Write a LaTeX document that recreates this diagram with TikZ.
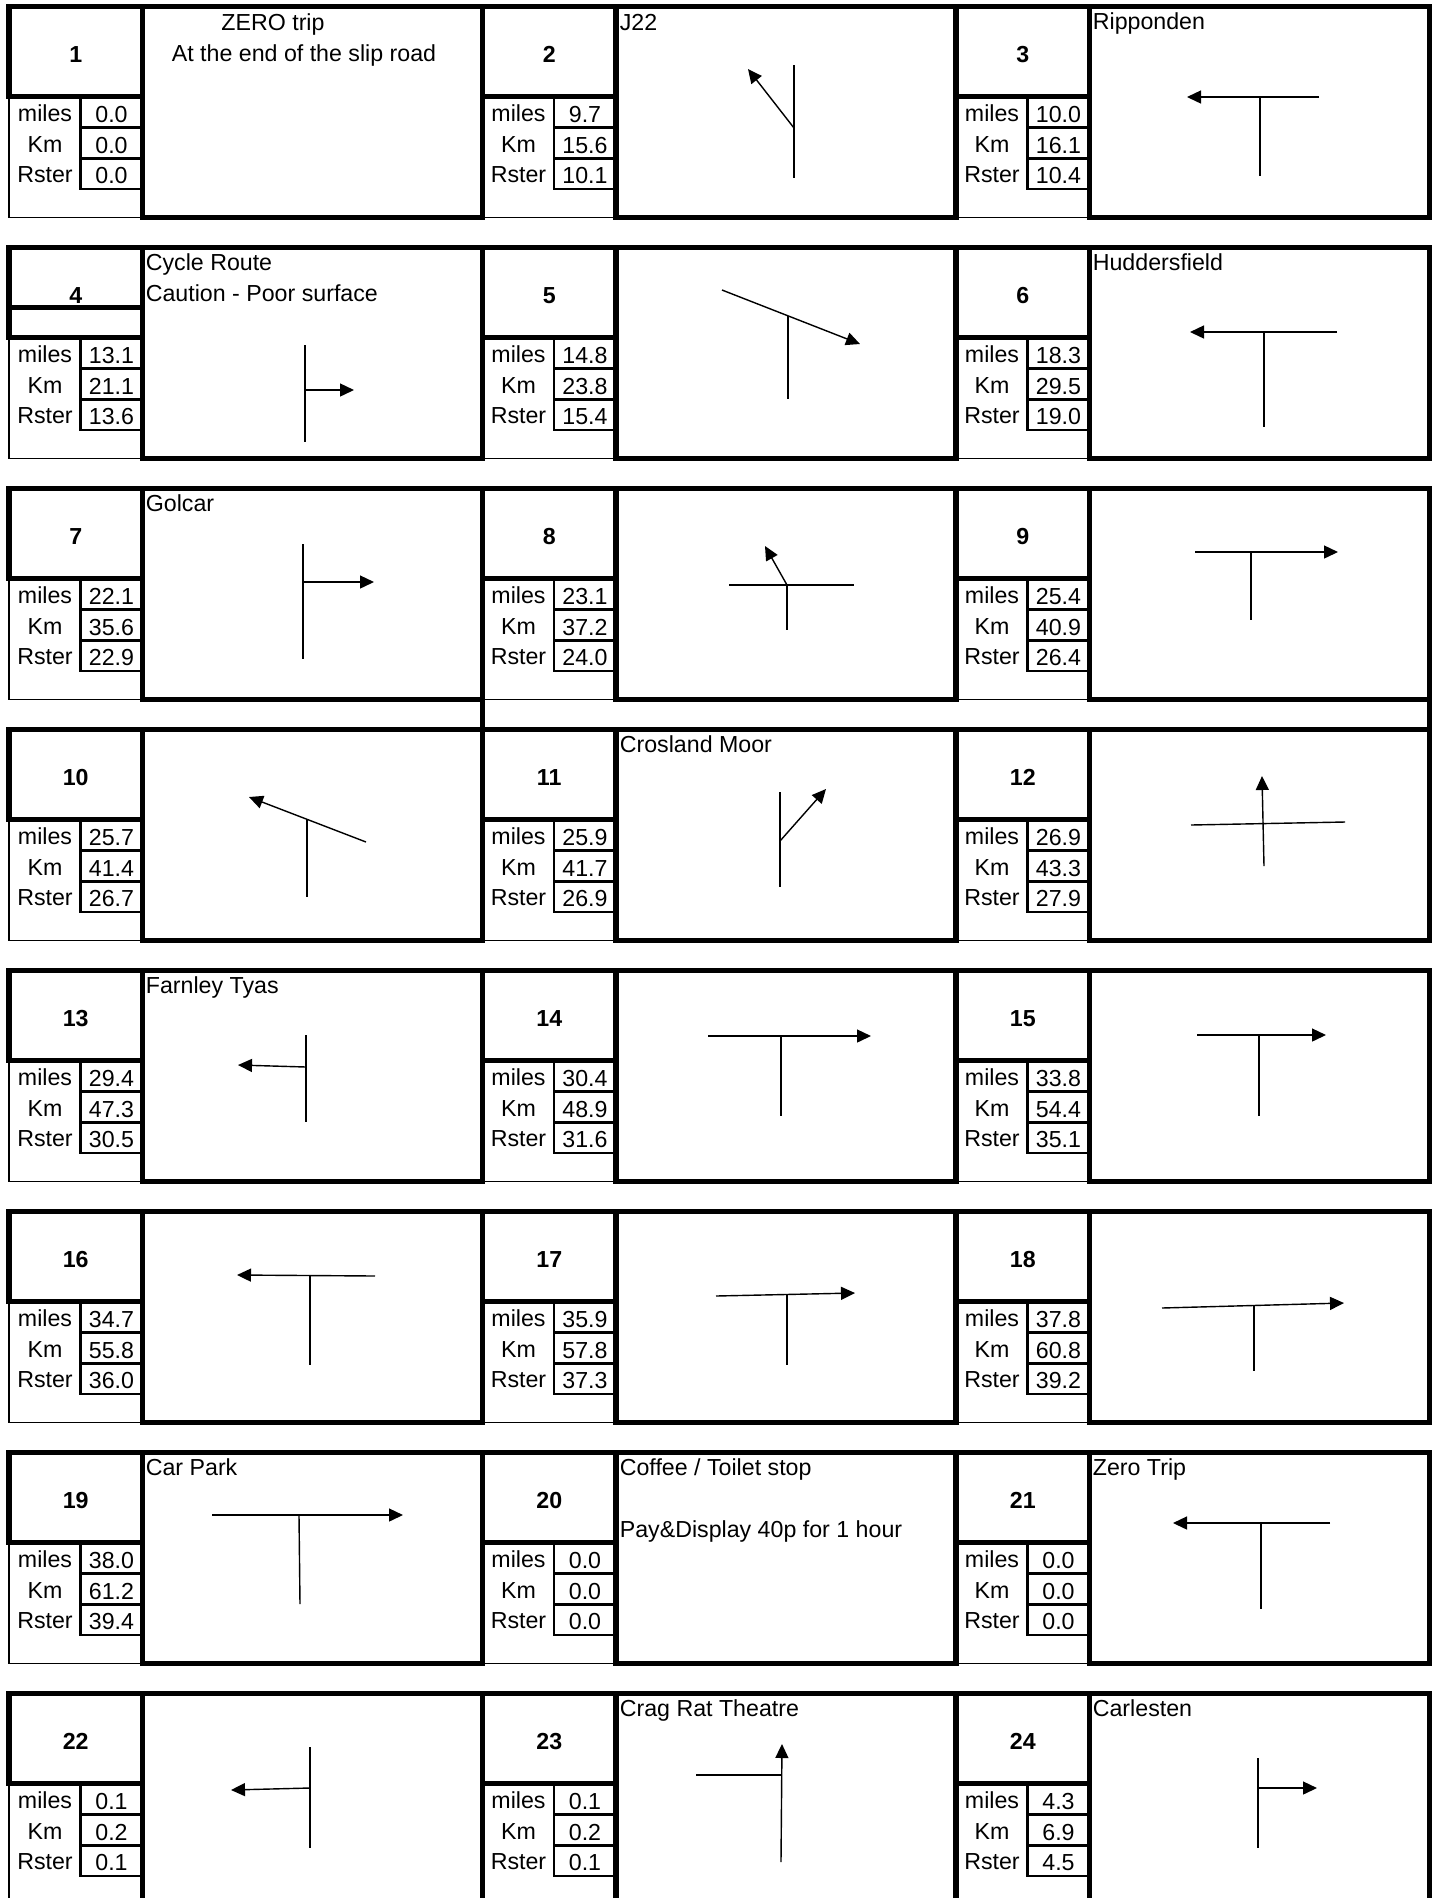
\documentclass[tikz,border=0pt]{standalone}
\usepackage{fontspec}
\setmainfont{Liberation Sans}
\usetikzlibrary{arrows.meta}

\begin{document}
\begin{tikzpicture}[
		x=0.02cm, y=-0.02cm,
		font=\fontsize{13.2}{15}\selectfont,
		% Frame styles
		heavy/.style={draw=black, line width=2.9pt},
		light/.style={draw=black, line width=0.9pt},
		valbox/.style={draw=black, line width=1.6pt},
		% Text styles
		stagenum/.style={anchor=base, inner sep=0pt, font=\fontsize{13.2}{15}\selectfont\bfseries},
		unitlbl/.style={anchor=base, inner sep=0pt},
		note/.style={anchor=base west, inner sep=0pt},
		% Junction styles
		road/.style={draw=black, line width=0.8pt},
		turn/.style={road, -{Triangle[length=0.28cm, width=0.26cm]}}
		]
		
		\useasboundingbox (0,0) rectangle (1436,1898);
		\clip (0,0) rectangle (1436,1898);
		
		% --- GRID OF STAGES: number / column / row / miles / Km / Rster ---
		\foreach \n/\col/\rw/\mi/\km/\rs in {
			1/0/0/0.0/0.0/0.0, 2/1/0/9.7/15.6/10.1, 3/2/0/10.0/16.1/10.4,
			4/0/1/13.1/21.1/13.6, 5/1/1/14.8/23.8/15.4, 6/2/1/18.3/29.5/19.0,
			7/0/2/22.1/35.6/22.9, 8/1/2/23.1/37.2/24.0, 9/2/2/25.4/40.9/26.4,
			10/0/3/25.7/41.4/26.7, 11/1/3/25.9/41.7/26.9, 12/2/3/26.9/43.3/27.9,
			13/0/4/29.4/47.3/30.5, 14/1/4/30.4/48.9/31.6, 15/2/4/33.8/54.4/35.1,
			16/0/5/34.7/55.8/36.0, 17/1/5/35.9/57.8/37.3, 18/2/5/37.8/60.8/39.2,
			19/0/6/38.0/61.2/39.4, 20/1/6/0.0/0.0/0.0, 21/2/6/0.0/0.0/0.0,
			22/0/7/0.1/0.2/0.1, 23/1/7/0.1/0.2/0.1, 24/2/7/4.3/6.9/4.5}{
			\pgfmathsetmacro{\xl}{9+473.5*\col}
			\pgfmathsetmacro{\xn}{\xl+133.5}
			\pgfmathsetmacro{\xr}{\xl+473.5}
			\pgfmathsetmacro{\yt}{6.5+241*\rw}
			% left column frame and value boxes
			\draw[light] (\xl,\yt+90) -- (\xl,\yt+211) -- (\xn,\yt+211);
			\draw[valbox] (\xl+71.5,\yt+91) rectangle (\xn,\yt+121);
			\draw[valbox] (\xl+71.5,\yt+121) rectangle (\xn,\yt+152);
			\draw[valbox] (\xl+71.5,\yt+152) rectangle (\xn,\yt+182.5);
			% number box and instruction cell
			\draw[heavy] (\xl,\yt) rectangle (\xn,\yt+90);
			\draw[heavy] (\xn,\yt) rectangle (\xr,\yt+211);
			\node[stagenum] (num\n) at (\xl+66.75,\yt+56) {\n};
			\node[unitlbl] (lmi\n) at (\xl+36,\yt+115) {miles};
			\node[unitlbl] (lkm\n) at (\xl+36,\yt+146) {Km};
			\node[unitlbl] (lrs\n) at (\xl+36,\yt+176) {Rster};
			\node[unitlbl] (vmi\n) at (\xl+102.5,\yt+116) {\mi};
			\node[unitlbl] (vkm\n) at (\xl+102.5,\yt+147) {\km};
			\node[unitlbl] (vrs\n) at (\xl+102.5,\yt+176.5) {\rs};
		}
		
		% odd bits of the frame
		\draw[heavy] (9,307.5) -- (142.5,307.5);
		\draw[heavy] (482.5,699.5) -- (482.5,729.5);
		\draw[heavy] (1429.5,699.5) -- (1429.5,729.5);
		
		% --- INSTRUCTION TEXTS ---
		\node[unitlbl] (t1a) at (273,30) {ZERO trip};
		\node[unitlbl] (t1b) at (304,61.5) {At the end of the slip road};
		\node[note] (t2) at (619.5,30) {J22};
		\node[note] (t3) at (1092.5,29.5) {Ripponden};
		\node[note] (t4a) at (145.5,270) {Cycle Route};
		\node[note] (t4b) at (145.5,301.5) {Caution - Poor surface};
		\node[note] (t6) at (1092.5,270.5) {Huddersfield};
		\node[note] (t7) at (145.5,511.5) {Golcar};
		\node[note] (t11) at (619.5,752.5) {Crosland Moor};
		\node[note] (t13) at (145.5,993.5) {Farnley Tyas};
		\node[note] (t19) at (145.5,1475.5) {Car Park};
		\node[note] (t20a) at (619.5,1475.5) {Coffee / Toilet stop};
		\node[note] (t20b) at (619.5,1537.5) {Pay\&Display 40p for 1 hour};
		\node[note] (t21) at (1092.5,1475.5) {Zero Trip};
		\node[note] (t23) at (619.5,1716.5) {Crag Rat Theatre};
		\node[note] (t24) at (1092.5,1716.5) {Carlesten};
		
		% --- JUNCTION SKETCHES ---
		\draw[road] (794,65) -- (794,178);    \draw[turn] (794,128) -- (748,69);
		\draw[turn] (1319,97) -- (1187,97);   \draw[road] (1260,97) -- (1260,176);
		\draw[road] (305,345) -- (305,442);   \draw[turn] (305,390) -- (354,390);
		\draw[turn] (722,290) -- (860,344);   \draw[road] (788,316) -- (788,399);
		\draw[turn] (1337,332) -- (1190,332); \draw[road] (1264,332) -- (1264,427);
		\draw[road] (303,544) -- (303,659);   \draw[turn] (303,582) -- (374,582);
		\draw[road] (729,585) -- (854,585);   \draw[road] (787,585) -- (787,630);
		\draw[turn] (787,585) -- (765,546);
		\draw[turn] (1195,552) -- (1338,552); \draw[road] (1251,552) -- (1251,620);
		\draw[turn] (366,842) -- (249,797);   \draw[road] (307,820) -- (307,897);
		\draw[road] (780,792) -- (780,887);   \draw[turn] (780,841) -- (826,789);
		\draw[road] (1191,825) -- (1345,822); \draw[turn] (1264,866) -- (1262,776);
		\draw[road] (306,1035) -- (306,1122); \draw[turn] (306,1067) -- (238,1065);
		\draw[turn] (708,1036) -- (871,1036); \draw[road] (781,1036) -- (781,1116);
		\draw[turn] (1197,1035) -- (1326,1035); \draw[road] (1259,1035) -- (1259,1116);
		\draw[turn] (375,1276) -- (237,1275); \draw[road] (310,1275) -- (310,1365);
		\draw[turn] (716,1296) -- (855,1293); \draw[road] (787,1294) -- (787,1365);
		\draw[turn] (1162,1308) -- (1344,1303); \draw[road] (1254,1305) -- (1254,1371);
		\draw[turn] (212,1515) -- (403,1515); \draw[road] (299,1515) -- (300,1604);
		\draw[turn] (1330,1523) -- (1173,1523); \draw[road] (1261,1523) -- (1261,1609);
		\draw[road] (310,1747) -- (310,1848); \draw[turn] (310,1788) -- (231,1790);
		\draw[road] (696,1775) -- (782,1775); \draw[turn] (781,1862) -- (782,1744);
		\draw[road] (1258,1758) -- (1258,1848); \draw[turn] (1258,1788) -- (1317,1788);
		
	\end{tikzpicture}
\end{document}
